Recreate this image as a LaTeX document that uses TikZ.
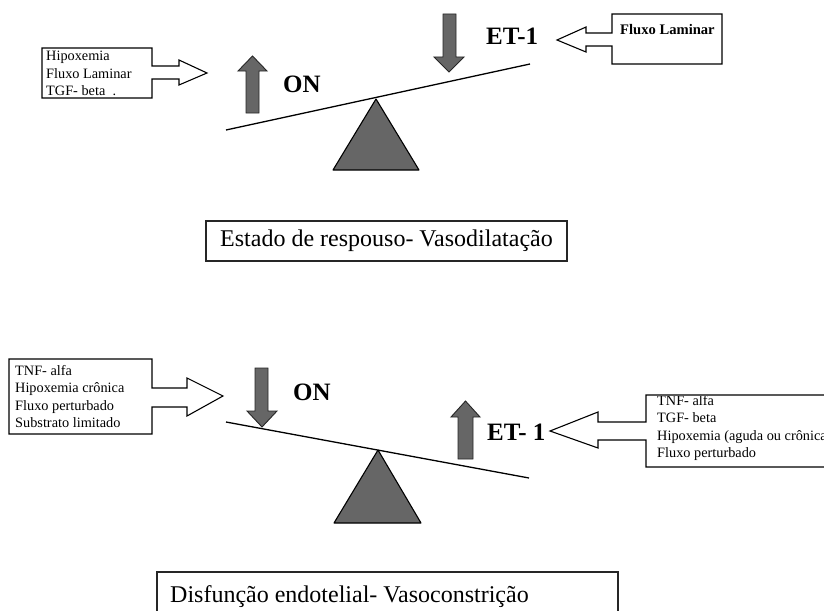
\documentclass[tikz,border=0pt]{standalone}
\usepackage{fontspec}
\setmainfont{Liberation Serif}
\begin{document}
\begin{tikzpicture}[x=1pt,y=-1pt,
  callout/.style={draw=black,line width=1.1pt,fill=white,line join=miter},
  blockarrow/.style={draw=black!85,line width=0.9pt,fill=black!60},
  fulcrum/.style={draw=black,line width=1.1pt,fill=black!60,line join=round},
  beam/.style={draw=black,line width=1.3pt},
  smalltxt/.style={anchor=north west,inner sep=0pt,align=left,font=\fontsize{14.3}{17.4}\selectfont},
  bigbold/.style={anchor=base west,inner sep=0pt,font=\fontsize{25}{30}\selectfont\bfseries},
  caption/.style={anchor=base west,inner sep=0pt,font=\fontsize{24}{28}\selectfont},
  labelbox/.style={draw=black!85,line width=1.3pt,fill=white}]
\useasboundingbox (0,0) rectangle (824,610);
\clip (0,0) rectangle (824,610);

% ---------------- top panel ----------------
% left callout
\draw[callout] (42,48) -- (152,48) -- (152,66) -- (179,66) -- (179,60) -- (207,73)
  -- (179,85) -- (179,79) -- (152,79) -- (152,98) -- (42,98) -- cycle;
\node[smalltxt] (tl) at (46,51.2) {Hipoxemia\\Fluxo Laminar\\TGF- beta\ \ .};

% right callout
\draw[callout] (612,14) -- (722,14) -- (722,64) -- (612,64) -- (612,46) -- (586,46)
  -- (586,52) -- (557,40) -- (586,27) -- (586,33) -- (612,33) -- cycle;
\node[anchor=base west,inner sep=0pt,font=\fontsize{14.6}{17}\selectfont\bfseries] (tr) at (620,35) {Fluxo Laminar};

% ON up arrow
\draw[blockarrow] (246,113) -- (246,71) -- (238,71) -- (252.5,56) -- (267,71) -- (259,71) -- (259,113) -- cycle;
\node[bigbold] (on1) at (283,92.5) {ON};

% ET-1 down arrow
\draw[blockarrow] (443,14) -- (443,57) -- (434,57) -- (449,72) -- (464,57) -- (456,57) -- (456,14) -- cycle;
\node[bigbold] (et1) at (486,45) {ET-1};

% beam and fulcrum
\coordinate (b1l) at (226,130);
\coordinate (b1r) at (530,64);
\draw[fulcrum] (376,99) -- (419,170) -- (333,170) -- cycle;
\draw[beam] (b1l) -- (b1r);

% caption
\draw[labelbox] (206,221) rectangle (567,261);
\node[caption] (cap1) at (220,246.7) {Estado de respouso- Vasodilatação};

% ---------------- bottom panel ----------------
% left callout
\draw[callout] (9,359) -- (152,359) -- (152,388) -- (187,388) -- (187,378) -- (223,396)
  -- (187,416) -- (187,407) -- (152,407) -- (152,434) -- (9,434) -- cycle;
\node[smalltxt] (bl) at (15,365.2) {TNF- alfa\\Hipoxemia crônica\\Fluxo perturbado\\Substrato limitado};

% right callout
\draw[callout] (646,395) -- (830,395) -- (830,467) -- (646,467) -- (646,440) -- (598,440)
  -- (598,448) -- (550,431) -- (598,412) -- (598,422) -- (646,422) -- cycle;
\begin{scope}
  \clip (647,396) rectangle (830,466);
  \node[smalltxt] (br) at (657,395.2) {TNF- alfa\\TGF- beta\\Hipoxemia (aguda ou crônica\\Fluxo perturbado};
\end{scope}

% ON down arrow
\draw[blockarrow] (255,368) -- (255,411) -- (247,411) -- (262,427) -- (277,411) -- (268,411) -- (268,368) -- cycle;
\node[bigbold] (on2) at (293,400) {ON};

% ET-1 up arrow
\draw[blockarrow] (458,459) -- (458,417) -- (451,417) -- (465.5,401) -- (480,417) -- (473,417) -- (473,459) -- cycle;
\node[bigbold] (et2) at (487,440) {ET- 1};

% beam and fulcrum
\coordinate (b2l) at (226,422);
\coordinate (b2r) at (529,478);
\draw[fulcrum] (378,450) -- (421,523) -- (334,523) -- cycle;
\draw[beam] (b2l) -- (b2r);

% caption
\draw[labelbox] (157,572) rectangle (618,640);
\node[caption] (cap2) at (170,602) {Disfunção endotelial- Vasoconstrição};
\end{tikzpicture}
\end{document}
